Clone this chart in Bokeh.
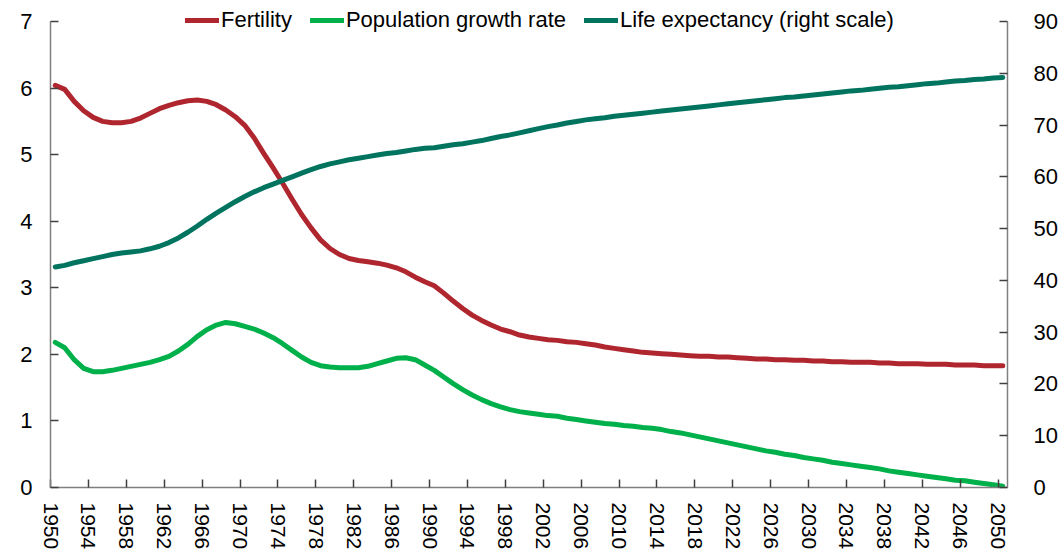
from bokeh.plotting import figure
from bokeh.models import (Range1d, LinearAxis, FixedTicker, CustomJSTickFormatter,
                          Legend, LegendItem)
from bokeh.embed import file_html
from bokeh.resources import INLINE

years = list(range(1950, 2051))

fertility = [
    6.04, 5.98, 5.80, 5.66, 5.56, 5.50, 5.48, 5.48, 5.50, 5.55,
    5.62, 5.69, 5.74, 5.78, 5.81, 5.82, 5.80, 5.75, 5.67, 5.57,
    5.44, 5.25, 5.02, 4.80, 4.57, 4.33, 4.10, 3.90, 3.72, 3.59,
    3.50, 3.44, 3.41, 3.39, 3.37, 3.34, 3.30, 3.24, 3.16, 3.09,
    3.03, 2.92, 2.80, 2.69, 2.59, 2.51, 2.44, 2.38, 2.34, 2.29,
    2.26, 2.24, 2.22, 2.21, 2.19, 2.18, 2.16, 2.14, 2.11, 2.09,
    2.07, 2.05, 2.03, 2.02, 2.01, 2.00, 1.99, 1.98, 1.97, 1.97,
    1.96, 1.96, 1.95, 1.94, 1.93, 1.93, 1.92, 1.92, 1.91, 1.91,
    1.90, 1.90, 1.89, 1.89, 1.88, 1.88, 1.88, 1.87, 1.87, 1.86,
    1.86, 1.86, 1.85, 1.85, 1.85, 1.84, 1.84, 1.84, 1.83, 1.83,
    1.83,
]

pop_growth = [
    2.18, 2.10, 1.92, 1.79, 1.74, 1.74, 1.76, 1.79, 1.82, 1.85,
    1.88, 1.92, 1.97, 2.05, 2.15, 2.27, 2.37, 2.44, 2.48, 2.46,
    2.42, 2.38, 2.32, 2.25, 2.16, 2.06, 1.96, 1.88, 1.83, 1.81,
    1.80, 1.80, 1.80, 1.82, 1.86, 1.90, 1.94, 1.95, 1.92, 1.84,
    1.76, 1.66, 1.56, 1.47, 1.39, 1.32, 1.26, 1.21, 1.17, 1.14,
    1.12, 1.10, 1.08, 1.07, 1.04, 1.02, 1.00, 0.98, 0.96, 0.95,
    0.93, 0.92, 0.90, 0.89, 0.87, 0.84, 0.82, 0.79, 0.76, 0.73,
    0.70, 0.67, 0.64, 0.61, 0.58, 0.55, 0.53, 0.50, 0.48, 0.45,
    0.43, 0.41, 0.38, 0.36, 0.34, 0.32, 0.30, 0.28, 0.25, 0.23,
    0.21, 0.19, 0.17, 0.15, 0.13, 0.11, 0.10, 0.08, 0.06, 0.04,
    0.02,
]

life_exp = [
    42.6, 42.9, 43.4, 43.8, 44.2, 44.6, 45.0, 45.3, 45.5, 45.7,
    46.1, 46.6, 47.3, 48.2, 49.3, 50.5, 51.8, 53.0, 54.1, 55.2,
    56.2, 57.1, 57.9, 58.6, 59.3, 60.0, 60.7, 61.4, 62.0, 62.5,
    62.9, 63.3, 63.6, 63.9, 64.2, 64.5, 64.7, 65.0, 65.3, 65.5,
    65.6, 65.9, 66.2, 66.4, 66.7, 67.0, 67.4, 67.8, 68.1, 68.5,
    68.9, 69.3, 69.7, 70.0, 70.4, 70.7, 71.0, 71.2, 71.4, 71.7,
    71.9, 72.1, 72.3, 72.5, 72.7, 72.9, 73.1, 73.3, 73.5, 73.7,
    73.9, 74.1, 74.3, 74.5, 74.7, 74.9, 75.1, 75.3, 75.4, 75.6,
    75.8, 76.0, 76.2, 76.4, 76.6, 76.7, 76.9, 77.1, 77.3, 77.4,
    77.6, 77.8, 78.0, 78.1, 78.3, 78.5, 78.6, 78.8, 78.9, 79.1,
    79.2,
]

tick_years = list(range(1950, 2051, 4))
left_ticks = [0, 1, 2, 3, 4, 5, 6, 7]
right_ticks = [0, 10, 20, 30, 40, 50, 60, 70, 80, 90]

series_names = ["Fertility", "Population growth rate", "Life expectancy (right scale)"]
colors = ["#B0262F", "#00B04A", "#00745F"]

FONT = "Liberation Sans"

# plot area: axes span 466 px; 16 px of headroom above for the legend
AXIS_PX = 466
HEAD_PX = 16
LEFT_MAX = left_ticks[-1]
RIGHT_MAX = right_ticks[-1]
headroom = (AXIS_PX + HEAD_PX) / AXIS_PX

p = figure(
    frame_width=957, frame_height=AXIS_PX + HEAD_PX,
    min_border_left=50, min_border_top=21 - HEAD_PX, min_border_right=54, min_border_bottom=64,
    x_range=Range1d(1949.5, 2050.5), y_range=Range1d(0, LEFT_MAX * headroom),
    output_backend="svg", toolbar_location=None,
)
p.extra_y_ranges = {"right": Range1d(0, RIGHT_MAX * headroom)}
p.outline_line_color = None
p.xgrid.visible = False
p.ygrid.visible = False
p.background_fill_color = "white"
p.border_fill_color = "white"

r1 = p.line(years, fertility, line_color=colors[0], line_width=5, line_join="round", line_cap="round")
r2 = p.line(years, pop_growth, line_color=colors[1], line_width=5, line_join="round", line_cap="round")
r3 = p.line(years, life_exp, line_color=colors[2], line_width=5, line_join="round", line_cap="round",
            y_range_name="right")

def style_axis(ax, standoff, size="22px"):
    ax.axis_line_color = "#7F7F7F"
    ax.axis_line_width = 1.5
    ax.major_tick_line_color = "#404040"
    ax.major_tick_line_width = 1.5
    ax.major_tick_in = 8
    ax.major_tick_out = 0
    ax.minor_tick_line_color = None
    ax.major_label_text_font = FONT
    ax.major_label_text_font_size = size
    ax.major_label_text_color = "black"
    ax.major_label_standoff = standoff

# bottom axis
xa = p.xaxis[0]
xa.ticker = FixedTicker(ticks=[y - 0.5 for y in tick_years])
xa.formatter = CustomJSTickFormatter(code="return String(Math.round(tick + 0.5));")
xa.major_label_orientation = "vertical"
style_axis(xa, 15, "21px")

# left axis
ya = p.yaxis[0]
ya.ticker = FixedTicker(ticks=left_ticks)
ya.bounds = (0, LEFT_MAX)
style_axis(ya, 18)

# right axis
ra = LinearAxis(y_range_name="right", ticker=FixedTicker(ticks=right_ticks), bounds=(0, RIGHT_MAX))
style_axis(ra, 26)
p.add_layout(ra, "right")

legend = Legend(
    items=[LegendItem(label=series_names[0], renderers=[r1]),
           LegendItem(label=series_names[1], renderers=[r2]),
           LegendItem(label=series_names[2], renderers=[r3])],
    orientation="horizontal",
    location=(135, AXIS_PX + HEAD_PX - 28),
    label_text_font=FONT,
    label_text_font_size="22px",
    label_text_color="black",
    glyph_width=34, glyph_height=22, label_height=22,
    label_standoff=2, spacing=18, padding=0, margin=0,
    background_fill_alpha=0, border_line_color=None,
)
p.add_layout(legend, "center")

open("out.html", "w").write(file_html(p, INLINE))
